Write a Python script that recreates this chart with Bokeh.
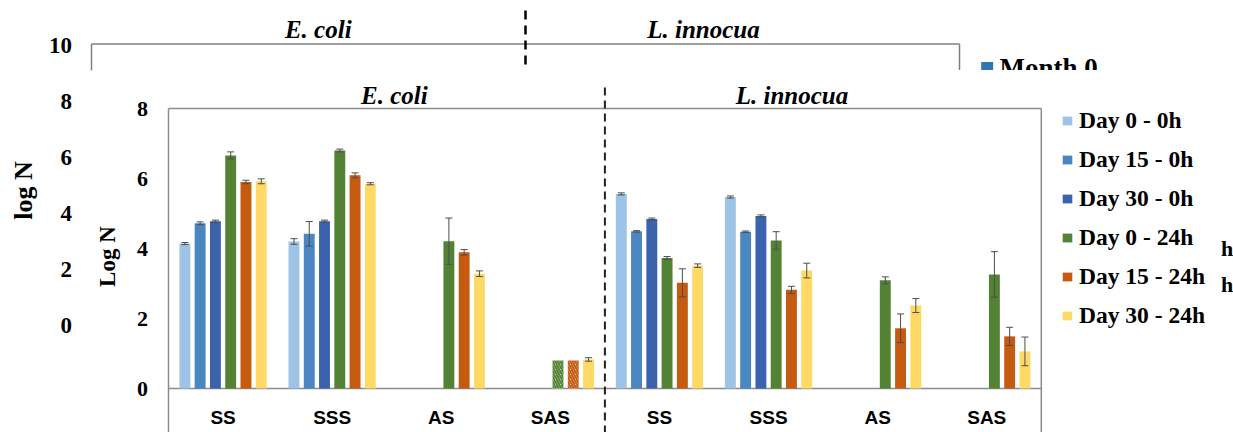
import numpy as np
from bokeh.plotting import figure
from bokeh.models import (Range1d, ColumnDataSource, Legend, LegendItem,
                          Whisker, TeeHead)
from bokeh.core.properties import value
from bokeh.embed import file_html
from bokeh.resources import INLINE

# ---------------- data ----------------
groups = ["SS", "SSS", "AS", "SAS", "SS", "SSS", "AS", "SAS"]
organisms = ["E. coli", "L. innocua"]
series = ["Day 0 - 0h", "Day 15 - 0h", "Day 30 - 0h",
          "Day 0 - 24h", "Day 15 - 24h", "Day 30 - 24h"]
colors = ["#9DC3E6", "#4A86BF", "#3A62AD", "#548235", "#C55A11", "#FFD966"]

day0_0h = [4.14, 4.20, None, None, 5.56, 5.47, None, None]
day15_0h = [4.72, 4.42, None, None, 4.49, 4.48, None, None]
day30_0h = [4.78, 4.78, None, None, 4.84, 4.93, None, None]
day0_24h = [6.66, 6.80, 4.21, 0.80, 3.73, 4.23, 3.09, 3.26]
day15_24h = [5.90, 6.09, 3.89, 0.80, 3.02, 2.82, 1.72, 1.49]
day30_24h = [5.92, 5.85, 3.28, 0.83, 3.51, 3.37, 2.37, 1.06]

err_day0_0h = [0.03, 0.08, None, None, 0.03, 0.03, None, None]
err_day15_0h = [0.04, 0.35, None, None, 0.02, 0.02, None, None]
err_day30_0h = [0.03, 0.03, None, None, 0.03, 0.03, None, None]
err_day0_24h = [0.10, 0.04, 0.66, None, 0.04, 0.25, 0.10, 0.65]
err_day15_24h = [0.05, 0.07, 0.08, None, 0.40, 0.10, 0.41, 0.26]
err_day30_24h = [0.07, 0.03, 0.08, 0.05, 0.05, 0.21, 0.20, 0.41]

# (series index, group index) of bars drawn hatched (below detection)
hatched = [(3, 3), (4, 3)]

y_ticks = [0, 2, 4, 6, 8]
bg_y_ticks = [0, 2, 4, 6, 8, 10]
bg_series = ["Month 0"]
bg_colors = ["#2E75B6"]

values = [day0_0h, day15_0h, day30_0h, day0_24h, day15_24h, day30_24h]
errors = [err_day0_0h, err_day15_0h, err_day30_0h,
          err_day0_24h, err_day15_24h, err_day30_24h]

# ---------------- layout constants ----------------
W, H = 1233, 432
BAR_STEP = 0.14
BAR_W = 0.10
SERIF_NAME = "Liberation Serif"
SERIF = value(SERIF_NAME)
SANS = value("Liberation Sans")
FRAME = "#8C8C8C"

p = figure(width=W, height=H, output_backend="svg", toolbar_location=None,
           x_range=Range1d(-1.5399, 9.7617), y_range=Range1d(-1.2571, 11.0857),
           x_axis_location=None, y_axis_location=None, min_border=0,
           outline_line_color=None, background_fill_color="white",
           border_fill_color="white")
p.grid.visible = False
p.extra_x_ranges = {"bgx": Range1d(-0.8387, 10.5253)}
p.extra_y_ranges = {"bgy": Range1d(-3.8214, 11.6071)}
BG = dict(x_range_name="bgx", y_range_name="bgy")

n_groups = len(groups)

# ---------------- background (partly covered) chart ----------------
p.text(x=[-0.18] * len(bg_y_ticks), y=bg_y_ticks, text=[str(t) for t in bg_y_ticks],
       text_font=SERIF, text_font_style="bold", text_font_size="23px",
       text_align="right", text_baseline="middle", text_color="black", **BG)
p.text(x=[-0.63], y=[4.82], text=["log N"], angle=np.pi / 2,
       text_font=SERIF, text_font_style="bold", text_font_size="26px",
       text_align="center", text_baseline="middle", text_color="black", **BG)
bg_top = 10.05
bg_cut = 9.107
p.segment(x0=[0, 0, n_groups], y0=[bg_top, bg_top, bg_top],
          x1=[n_groups, 0, n_groups], y1=[bg_top, bg_cut, bg_cut],
          line_color="#7F7F7F", line_width=1.5, **BG)
p.segment(x0=[n_groups / 2], y0=[11.25], x1=[n_groups / 2], y1=[bg_cut],
          line_color="black", line_width=2.5, line_dash="9 6", **BG)
p.text(x=[2.09, 5.64], y=[10.57, 10.57], text=organisms,
       text_font=SERIF, text_font_style="bold italic", text_font_size="25px",
       text_align="center", text_baseline="middle", text_color="black", **BG)
p.rect(x=[8.255], y=[9.2], width=[0.11], height=[0.43], fill_color=bg_colors[0],
       line_color=None, **BG)
p.text(x=[8.369], y=[9.2], text=bg_series, text_font=SERIF, text_font_style="bold",
       text_font_size="27px", text_align="left", text_baseline="middle",
       text_color="black", **BG)
p.text(x=[10.41, 10.41], y=[2.75, 1.46], text=["h", "h"], text_font=SERIF,
       text_font_style="bold", text_font_size="22px", text_align="left",
       text_baseline="middle", text_color="black", **BG)

# white cover = foreground chart area
p.quad(left=[-0.6966], right=[9.597], top=[9.1], bottom=[-2.0],
       fill_color="white", line_color=None)

# ---------------- foreground chart ----------------
y_top = y_ticks[-1]
y_bot = p.y_range.start
p.segment(x0=[0, 0, n_groups, 0], y0=[y_top, y_top, y_top, 0],
          x1=[n_groups, 0, n_groups, n_groups], y1=[y_top, y_bot, y_bot, 0],
          line_color=FRAME, line_width=1.5)
p.segment(x0=[n_groups / 2], y0=[8.6], x1=[n_groups / 2], y1=[y_bot],
          line_color="#222222", line_width=2, line_dash="8 5")

p.text(x=[2.07, 5.715], y=[8.37, 8.37], text=organisms,
       text_font=SERIF, text_font_style="bold italic", text_font_size="25px",
       text_align="center", text_baseline="middle", text_color="black")
p.text(x=[-0.1885] * len(y_ticks), y=y_ticks, text=[str(t) for t in y_ticks],
       text_font=SERIF, text_font_style="bold", text_font_size="22px",
       text_align="right", text_baseline="middle", text_color="black")
p.text(x=[-0.559], y=[3.77], text=["Log N"], angle=np.pi / 2,
       text_font=SERIF, text_font_style="bold", text_font_size="23px",
       text_align="center", text_baseline="middle", text_color="black")
p.text(x=[i + 0.5 for i in range(n_groups)], y=[-0.83] * n_groups, text=groups,
       text_font=SANS, text_font_style="bold", text_font_size="19px",
       text_align="center", text_baseline="middle", text_color="black")

items = []
for j, (name, vals, errs, col) in enumerate(zip(series, values, errors, colors)):
    off = (j - (len(series) - 1) / 2) * BAR_STEP
    xs, tops, hx, htops = [], [], [], []
    wx, wu, wl = [], [], []
    for i, (v, e) in enumerate(zip(vals, errs)):
        if v is None:
            continue
        if (j, i) in hatched:
            hx.append(i + 0.5 + off)
            htops.append(v)
        else:
            xs.append(i + 0.5 + off)
            tops.append(v)
        if e:
            wx.append(i + 0.5 + off)
            wu.append(v + e)
            wl.append(v - e)
    r = p.vbar(x=xs, top=tops, bottom=0, width=BAR_W, fill_color=col, line_color=None)
    items.append(LegendItem(label=name, renderers=[r]))
    if hx:
        p.vbar(x=hx, top=htops, bottom=0, width=BAR_W, fill_color="white",
               line_color=None, hatch_pattern="\\", hatch_color=col,
               hatch_scale=5, hatch_weight=2)
    if wx:
        src = ColumnDataSource(dict(x=wx, upper=wu, lower=wl))
        wc = "#4D4D4D"
        p.add_layout(Whisker(source=src, base="x", upper="upper", lower="lower",
                             level="overlay", line_color=wc, line_width=1,
                             upper_head=TeeHead(size=7, line_color=wc, line_width=1),
                             lower_head=TeeHead(size=7, line_color=wc, line_width=1)))

legend = Legend(items=items, location=(1061, 103), orientation="vertical",
                label_text_font=SERIF_NAME, label_text_font_style="bold",
                label_text_font_size="23.5px", label_text_color="black",
                glyph_width=12, glyph_height=11, label_standoff=6,
                label_height=26, spacing=12, padding=0, margin=0,
                border_line_color=None, background_fill_alpha=0)
p.add_layout(legend)

open("out.html", "w").write(file_html(p, INLINE))
